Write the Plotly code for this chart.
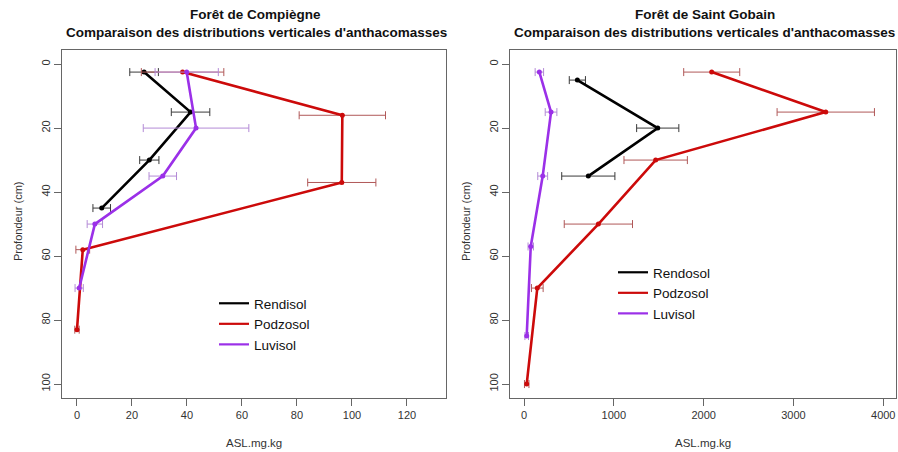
import plotly.graph_objects as go

# ---------------- Data ----------------
# Forêt de Compiègne
comp_rend_depth = [2.5, 15, 30, 45]
comp_rend_val = [24.4, 41.3, 26.3, 9.0]
comp_rend_err = [5.2, 7.0, 3.5, 3.2]

comp_podz_depth = [2.5, 16, 37, 58, 83]
comp_podz_val = [38.4, 96.5, 96.3, 2.1, 0.0]
comp_podz_err = [15.0, 15.7, 12.4, 2.5, 0.8]

comp_luvi_depth = [2.5, 20, 35, 50, 70]
comp_luvi_val = [39.9, 43.3, 31.2, 6.5, 0.8]
comp_luvi_err = [11.5, 19.2, 5.0, 2.8, 1.5]

# Forêt de Saint Gobain
sg_rend_depth = [5, 20, 35]
sg_rend_val = [594, 1489, 716]
sg_rend_err = [90, 235, 296]

sg_podz_depth = [2.5, 15, 30, 50, 70, 100]
sg_podz_val = [2090, 3360, 1466, 828, 148, 30]
sg_podz_err = [312, 542, 353, 380, 65, 25]

sg_luvi_depth = [2.5, 15, 35, 57, 85]
sg_luvi_val = [171, 301, 208, 75, 30]
sg_luvi_err = [47, 65, 55, 30, 20]

left_legend_names = ["Rendisol", "Podzosol", "Luvisol"]
right_legend_names = ["Rendosol", "Podzosol", "Luvisol"]

y_ticks = [0, 20, 40, 60, 80, 100]
left_x_ticks = [0, 20, 40, 60, 80, 100, 120]
right_x_ticks = [0, 1000, 2000, 3000, 4000]

# ---------------- Styles ----------------
COL = {"rend": "#000000", "podz": "#cc0a0a", "luvi": "#9b30e8"}
ERRCOL = {"rend": "#3a3a3a", "podz": "#b05858", "luvi": "#b38ad6"}
FONT = "Liberation Sans, Arial, sans-serif"

W, H = 898, 452


def px_x(p):
    return p / W


def px_y(p):
    return 1 - p / H


fig = go.Figure()


def add_series(x, y, err, key, xa, ya):
    fig.add_trace(go.Scatter(
        x=x, y=y, mode="lines+markers",
        line=dict(color=COL[key], width=2.6),
        marker=dict(color=COL[key], size=5),
        error_x=dict(type="data", array=err, visible=True,
                     color=ERRCOL[key], thickness=1, width=4),
        xaxis=xa, yaxis=ya, showlegend=False, hoverinfo="x+y"))


add_series(comp_rend_val, comp_rend_depth, comp_rend_err, "rend", "x", "y")
add_series(comp_podz_val, comp_podz_depth, comp_podz_err, "podz", "x", "y")
add_series(comp_luvi_val, comp_luvi_depth, comp_luvi_err, "luvi", "x", "y")

add_series(sg_rend_val, sg_rend_depth, sg_rend_err, "rend", "x2", "y2")
add_series(sg_podz_val, sg_podz_depth, sg_podz_err, "podz", "x2", "y2")
add_series(sg_luvi_val, sg_luvi_depth, sg_luvi_err, "luvi", "x2", "y2")

# legend-only entries
for name, key in zip(left_legend_names, ["rend", "podz", "luvi"]):
    fig.add_trace(go.Scatter(x=[None], y=[None], mode="lines", name=name,
                             line=dict(color=COL[key], width=2.2),
                             xaxis="x", yaxis="y", legend="legend"))
for name, key in zip(right_legend_names, ["rend", "podz", "luvi"]):
    fig.add_trace(go.Scatter(x=[None], y=[None], mode="lines", name=name,
                             line=dict(color=COL[key], width=2.2),
                             xaxis="x2", yaxis="y2", legend="legend2"))

ydom = [px_y(397.5), px_y(50)]
axis_common = dict(showline=True, linecolor="#666666", linewidth=1, mirror=True,
                   ticks="outside", ticklen=7, tickcolor="#666666",
                   showgrid=False, zeroline=False,
                   tickfont=dict(family=FONT, size=11, color="#333333"))

legend_font = dict(family=FONT, size=13.5, color="#111111")

fig.update_layout(
    width=W, height=H,
    margin=dict(l=0, r=0, t=0, b=0),
    paper_bgcolor="white", plot_bgcolor="white",
    font=dict(family=FONT, color="#222222"),
    hovermode=False,
    xaxis=dict(domain=[px_x(62), px_x(446)], range=[-5.45, 134.2],
               tickvals=left_x_ticks, anchor="y", **axis_common),
    yaxis=dict(domain=ydom, range=[104.2, -4.4], tickvals=y_ticks,
               tickangle=-90, anchor="x", **axis_common),
    xaxis2=dict(domain=[px_x(510), px_x(896)], range=[-156, 4142],
                tickvals=right_x_ticks, anchor="y2", **axis_common),
    yaxis2=dict(domain=ydom, range=[104.2, -4.4], tickvals=y_ticks,
                tickangle=-90, anchor="x2", **axis_common),
    legend=dict(x=px_x(214), y=px_y(288), xanchor="left", yanchor="top",
                bgcolor="rgba(0,0,0,0)", font=legend_font,
                tracegroupgap=0, itemwidth=30),
    legend2=dict(x=px_x(613), y=px_y(257), xanchor="left", yanchor="top",
                 bgcolor="rgba(0,0,0,0)", font=legend_font,
                 tracegroupgap=0, itemwidth=30),
)

annotations = [
    dict(text="<b>Forêt de Compiègne</b>", x=px_x(255), y=px_y(15)),
    dict(text="<b>Comparaison des distributions verticales d'anthacomasses</b>", x=px_x(256), y=px_y(32)),
    dict(text="<b>Forêt de Saint Gobain</b>", x=px_x(705), y=px_y(15)),
    dict(text="<b>Comparaison des distributions verticales d'anthacomasses</b>", x=px_x(704), y=px_y(32)),
]
for a in annotations:
    a.update(xref="paper", yref="paper", showarrow=False, xanchor="center", yanchor="middle",
             font=dict(family=FONT, size=13.5, color="#111111"))
    fig.add_annotation(**a)

for cx in [254, 703]:
    fig.add_annotation(text="ASL.mg.kg", x=px_x(cx), y=px_y(443), xref="paper", yref="paper",
                       showarrow=False, xanchor="center", yanchor="middle",
                       font=dict(family=FONT, size=11.5, color="#333333"))
for cx in [18, 466]:
    fig.add_annotation(text="Profondeur (cm)", x=px_x(cx), y=px_y(222), xref="paper", yref="paper",
                       showarrow=False, xanchor="center", yanchor="middle", textangle=-90,
                       font=dict(family=FONT, size=11, color="#333333"))

fig.write_html(
    "out.html",
    config={"displayModeBar": False, "staticPlot": False},
    post_script="document.body.style.margin='0';"
                "document.documentElement.style.overflow='hidden';"
                "document.body.style.overflow='hidden';",
)
